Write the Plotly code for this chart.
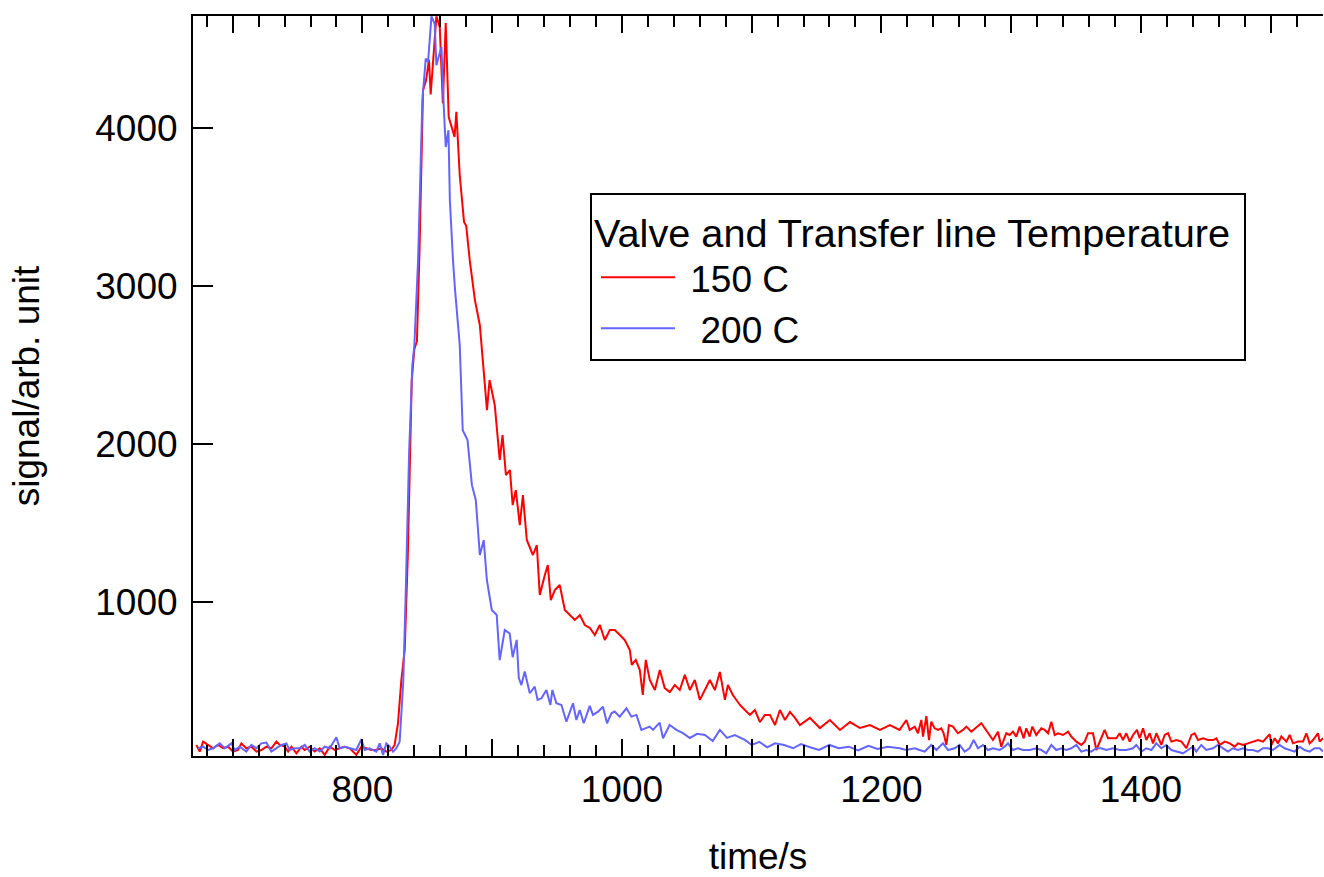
import plotly.graph_objects as go

# ---------------- data ----------------
t_150 = [672, 674.6, 677.2, 681, 684.9, 688.7, 692.6, 696.4, 700.3, 704.1, 706.7, 710.5, 714.4, 718.3,
         722.1, 726, 729.8, 733.7, 736.3, 740.1, 742.7, 745.3, 749.1, 753, 755.5, 759.4, 763.2, 767.1,
         770.9, 774.8, 778.6, 782.5, 786.3, 790.2, 795.3, 799.2, 803, 806.9, 810.7, 814.6, 818.4, 822.3,
         824.8, 827.4, 830, 832.6, 835, 836.5, 838, 840, 842, 844, 846.7, 849, 851.3, 852.6, 855, 857,
         859.6, 862, 864.2, 866.5, 869, 871, 872.4, 875, 878.3, 880, 882.7, 886.7, 890.5, 894.3, 896,
         898, 902, 905.8, 908, 910.6, 913.7, 915.8, 918.2, 921.3, 923.7, 926.7, 931.4, 934.4, 936.7,
         940.6, 942.9, 945.2, 948.3, 952.1, 956, 959.9, 963.7, 967.6, 971.4, 975.3, 979.1, 983, 986.8,
         990.7, 994.5, 998.4, 1002.2, 1006.1, 1007.6, 1010.7, 1013.8, 1016.1, 1018.4, 1021.5, 1025.4,
         1029.2, 1033, 1036.9, 1040.8, 1044.6, 1048.5, 1052.4, 1056.2, 1060.1, 1064, 1067.8, 1071.7,
         1075.5, 1079.4, 1081.7, 1085.5, 1091, 1094.8, 1098.7, 1102.5, 1106.4, 1110.2, 1114.1, 1118,
         1121.8, 1125.7, 1129.5, 1133.4, 1137.2, 1144.9, 1152.6, 1160.3, 1168.1, 1175.8, 1183.5, 1191.2,
         1198.9, 1206.6, 1214, 1219.3, 1221.8, 1225.7, 1228.2, 1230.8, 1232.1, 1234.7, 1236.7, 1238.5,
         1241.1, 1243.7, 1246.2, 1248, 1250.1, 1252.1, 1255.2, 1259, 1262.9, 1265.5, 1269.3, 1277,
         1282.2, 1286, 1289.9, 1292.4, 1296.3, 1298.9, 1301.4, 1304, 1306.6, 1309.7, 1311.7, 1314.3,
         1316.4, 1319.4, 1323.3, 1325.9, 1328.5, 1331, 1333.6, 1336.2, 1340, 1343.9, 1346.4, 1350.3,
         1354.1, 1356.7, 1359.3, 1363.1, 1365.7, 1369.5, 1372.1, 1374.7, 1381.1, 1383.7, 1386.2, 1388.8,
         1391.4, 1394, 1397, 1399.1, 1401.7, 1404.2, 1406.8, 1409.4, 1412, 1415.8, 1418.4, 1421, 1423.5,
         1427.4, 1431.3, 1435.1, 1439, 1441.5, 1444.1, 1448, 1451.8, 1455.7, 1458.2, 1460.8, 1464.7,
         1468.5, 1472.4, 1474.9, 1478.8, 1482.6, 1486.5, 1490.3, 1494.2, 1499.3, 1500.6, 1503.2, 1505.7,
         1508.3, 1512.2, 1514.7, 1517.3, 1521.1, 1525, 1527.6, 1530.1, 1532.7, 1536.5, 1537.8, 1540.4]
signal_150 = [95, 53, 116, 95, 74, 95, 74, 84, 53, 63, 105, 74, 84, 53,
              63, 84, 74, 116, 95, 84, 53, 84, 42, 84, 63, 84, 53, 74,
              32, 84, 63, 74, 84, 74, 32, 84, 74, 63, 63, 74, 53, 63,
              95, 232, 506, 700, 1300, 1960, 2400, 2600, 2650, 3225, 4238, 4300, 4431, 4211, 4500, 4706,
              4638, 4155, 4664, 4069, 4000, 3942, 4101, 3700, 3405, 3380, 3163, 2910, 2751, 2404, 2214,
              2404, 2245, 1898, 2056, 1803, 1834, 1613, 1708, 1486, 1676, 1392, 1297, 1360, 1044,
              1170, 1233, 1012, 1075, 1107, 949, 917, 886, 917, 854, 835, 791, 854, 759,
              822, 822, 791, 759, 696, 601, 633, 569, 411, 633, 506, 443,
              569, 455, 430, 474, 443, 538, 443, 506, 380, 443, 506, 443,
              557, 380, 474, 411, 348, 316, 285, 316, 240, 285, 285, 221,
              316, 253, 304, 266, 221, 266, 202, 253, 190, 240, 202, 221,
              190, 221, 190, 253, 190, 211, 169, 253, 148, 278, 126, 242,
              200, 190, 200, 169, 95, 221, 211, 169, 190, 211, 179, 232,
              169, 126, 179, 84, 169, 158, 179, 148, 211, 137, 200, 148,
              211, 158, 200, 190, 169, 242, 158, 169, 158, 179, 148, 116,
              95, 116, 169, 169, 63, 137, 190, 137, 137, 169, 126, 169,
              116, 158, 190, 137, 200, 126, 169, 105, 169, 95, 158, 169, 116,
              126, 116, 74, 158, 169, 126, 137, 126, 126, 137, 95, 116,
              105, 84, 105, 95, 105, 116, 126, 116, 164, 95, 137, 105,
              148, 116, 158, 105, 116, 116, 169, 105, 126, 169, 116, 137]

t_200 = [673.3, 677.2, 681, 684.9, 690, 693.9, 699, 701.6, 705.4, 710.5, 714.4, 718.3, 722.1, 726,
         729.8, 733.7, 737.5, 741.4, 743.9, 747.8, 751.6, 755.5, 759.4, 763.2, 767.1, 770.9, 774.8,
         779.9, 782.5, 786.3, 790.2, 795.3, 799.2, 801.7, 805.6, 810.7, 813.3, 815.9, 818.4, 821,
         823.6, 826.1, 828.7, 831.5, 833.5, 836, 838.5, 840, 842.9, 846.2, 848.8, 850.6, 853.2, 855.7,
         857, 860.9, 862.7, 864.2, 866.3, 867.4, 869.8, 871.4, 875, 877.3, 881, 884.4, 887.4, 890.5,
         893.5, 895.9, 899.7, 903.5, 905.8, 909.7, 913.5, 915.8, 918.9, 920.5, 922.5, 925.1, 929,
         932.8, 935, 938, 941.8, 944.9, 946.4, 949.5, 953.4, 957.2, 962.3, 964.9, 967.5, 970.6, 975.2,
         977.7, 981.6, 985.4, 988.5, 991.9, 994.4, 998.3, 1003.5, 1007.3, 1011.2, 1015, 1021.4, 1024,
         1029.1, 1031.7, 1036.8, 1042, 1047, 1052.4, 1058, 1064, 1070, 1075.5, 1081, 1087, 1094.8,
         1100, 1106, 1112, 1118, 1125, 1132, 1138, 1145, 1152, 1160, 1167, 1175, 1182, 1190, 1197,
         1205, 1214.1, 1219.2, 1225.7, 1229.5, 1233.4, 1238.5, 1242.4, 1247.5, 1251.4, 1256.5, 1260.3,
         1264.2, 1268, 1271.1, 1274.5, 1278.3, 1282.2, 1286, 1291.2, 1295, 1297.6, 1301.4, 1305.3,
         1309.2, 1314.3, 1319.4, 1323.3, 1327.1, 1331, 1334.8, 1338.7, 1342.6, 1346.4, 1350.3, 1354.1,
         1358, 1361.8, 1365.7, 1369.5, 1373.4, 1378.5, 1383.7, 1388.8, 1393.9, 1396.5, 1400.4, 1404.2,
         1408.1, 1411.9, 1415.8, 1419.6, 1423.5, 1428.6, 1432.5, 1436.3, 1440.2, 1442.7, 1446.6,
         1450.4, 1455.6, 1459.4, 1463.3, 1467.1, 1471, 1474.9, 1478.7, 1482.6, 1486.4, 1490.3, 1494.1,
         1498, 1501.8, 1507, 1510.8, 1514.7, 1518.5, 1522.4, 1526.2, 1530.1, 1533.9, 1537.8, 1540.4]
signal_200 = [74, 84, 63, 74, 105, 74, 105, 63, 84, 53, 95, 74, 105, 110,
              53, 74, 95, 105, 63, 74, 74, 95, 53, 74, 53, 84, 74,
              143, 74, 84, 74, 63, 131, 63, 74, 53, 105, 32, 105, 84,
              53, 74, 116, 500, 1100, 1950, 2500, 2620, 3163, 4175, 4438, 4417, 4706, 4659,
              4396, 4512, 4132, 3879, 3985, 3540, 3163, 2973, 2625, 2087, 2024, 1739, 1644, 1297,
              1391, 1139, 949, 917, 632, 822, 800, 650, 760, 520, 474, 560, 422,
              464, 380, 390, 443, 348, 443, 359, 348, 242, 359, 253, 316, 232, 342,
              285, 306, 337, 232, 295, 306, 274, 327, 274, 285, 190, 211, 190,
              236, 137, 221, 190, 170, 139, 165, 158, 120, 190, 140, 158, 127,
              95, 114, 80, 105, 95, 74, 100, 80, 63, 95, 74, 84, 60, 90, 70,
              84, 74, 63, 74, 63, 53, 95, 63, 105, 63, 74, 95,
              53, 74, 126, 74, 95, 63, 74, 63, 84, 105, 63, 74,
              63, 63, 74, 63, 42, 95, 63, 74, 63, 74, 95,
              53, 63, 53, 74, 74, 63, 74, 63, 63, 74, 95, 53,
              74, 63, 105, 74, 95, 63, 53, 42, 63, 84, 53,
              95, 63, 74, 95, 74, 53, 74, 63, 74, 63, 63, 53, 74,
              74, 63, 95, 74, 63, 53, 84, 63, 53, 74, 74, 53]

series_names = ["\u00a0150 C", "\u00a0\u00a0200 C"]
legend_title = "Valve and Transfer line Temperature\u00a0"
x_title = "time/s"
y_title = "signal/arb. unit"
x_tick_values = [700, 800, 900, 1000, 1100, 1200, 1300, 1400, 1500]
x_tick_labels = ["", "800", "", "1000", "", "1200", "", "1400", ""]
x_long_ticks = [800, 1000, 1200, 1400]
y_tick_values = [1000, 2000, 3000, 4000]
y_tick_labels = ["1000", "2000", "3000", "4000"]

# ---------------- figure ----------------
FONT = "Liberation Sans, Arial, sans-serif"
FS = 37
X_RANGE = [669.4, 1540.4]
Y_RANGE = [25, 4708]

fig = go.Figure()
fig.add_trace(go.Scatter(x=t_150, y=signal_150, mode="lines", name=series_names[0],
                         line=dict(color="#ff0000", width=2)))
fig.add_trace(go.Scatter(x=t_200, y=signal_200, mode="lines", name=series_names[1],
                         line=dict(color="#6464ff", width=2)))

common_x = dict(range=X_RANGE, showgrid=False, zeroline=False, ticks="inside",
                tickwidth=2, tickcolor="black")

fig.update_layout(
    width=1324, height=877,
    margin=dict(l=193, r=1, t=16, b=121, autoexpand=False),
    paper_bgcolor="white", plot_bgcolor="white",
    font=dict(family=FONT, size=FS, color="black"),
    showlegend=True,
    legend=dict(
        x=0.3513, y=0.7608, xanchor="left", yanchor="top",
        bgcolor="white", bordercolor="black", borderwidth=2,
        font=dict(family=FONT, size=FS, color="black"),
        title=dict(text=legend_title, font=dict(family=FONT, size=39.7, color="black")),
        itemwidth=74, tracegroupgap=0, indentation=4,
    ),
    xaxis=dict(**common_x, tickmode="array", tickvals=x_tick_values, ticktext=x_tick_labels,
               ticklen=17, showline=True, linecolor="black", linewidth=2, mirror="ticks",
               minor=dict(ticks="inside", dtick=20, tick0=0, ticklen=11, tickwidth=2,
                          tickcolor="black", showgrid=False),
               tickfont=dict(family=FONT, size=FS), ticklabelstandoff=0,
               title=dict(text=x_title, font=dict(family=FONT, size=FS), standoff=56)),
    xaxis2=dict(**common_x, overlaying="x", side="bottom", anchor="y", tickmode="array",
                tickvals=x_long_ticks, ticklen=21, showticklabels=False, showline=False,
                mirror="ticks"),
    yaxis=dict(range=Y_RANGE, showgrid=False, zeroline=False, tickmode="array",
               tickvals=y_tick_values, ticktext=y_tick_labels, ticks="inside", ticklen=20,
               tickwidth=2, tickcolor="black", showline=True, linecolor="black", linewidth=2,
               tickfont=dict(family=FONT, size=FS), ticklabelstandoff=6,
               title=dict(text=y_title, font=dict(family=FONT, size=FS), standoff=44)),
    yaxis2=dict(overlaying="y", side="right", anchor="x", range=[-0.053, 6.48], dtick=1, tick0=0,
                ticks="inside", ticklen=10, tickwidth=2, tickcolor="black",
                showticklabels=False, showline=True, linecolor="black", linewidth=2,
                showgrid=False, zeroline=False),
)

fig.write_html("out.html", config={"displayModeBar": False},
               post_script="document.body.style.margin='0px';")
